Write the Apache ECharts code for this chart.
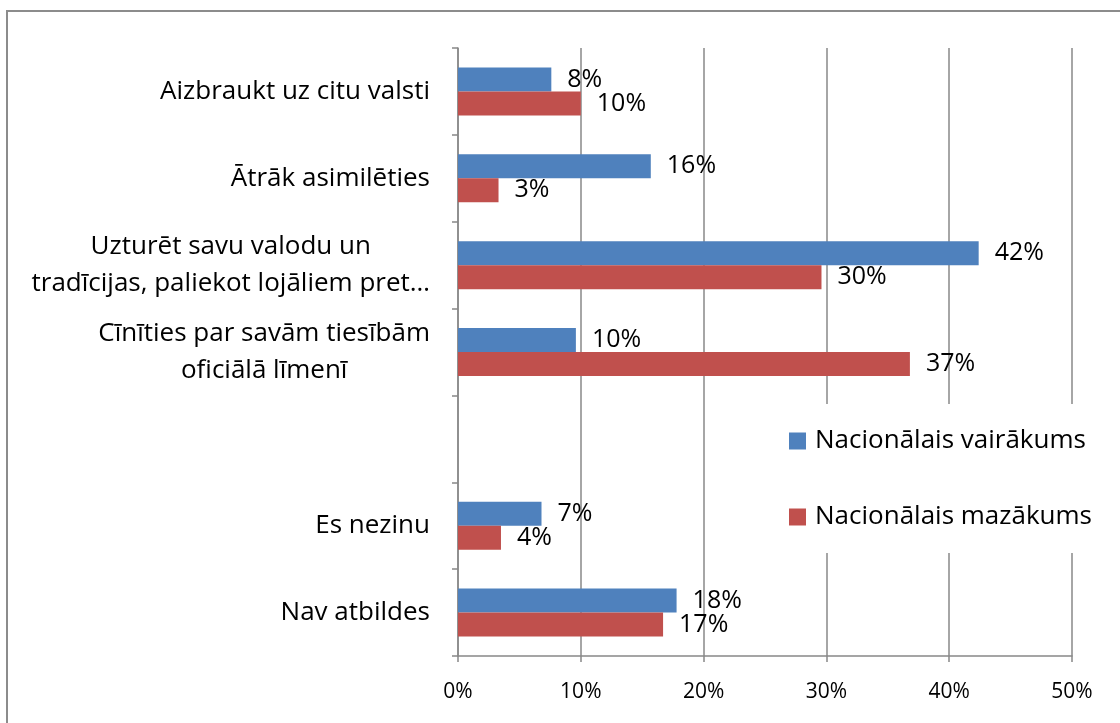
<!DOCTYPE html>
<html>
<head>
<meta charset="utf-8">
<script src="https://cdn.jsdelivr.net/npm/echarts@6/dist/echarts.min.js"></script>
<style>
  html, body { margin: 0; padding: 0; background: #fff; }
  #chart { width: 1120px; height: 723px; }
</style>
</head>
<body>
<div id="chart"></div>
<script>
// categories, top to bottom (the empty one is a blank row in the original)
const categories = [
    'Aizbraukt uz citu valsti',
    'Ātrāk asimilēties',
    'Uzturēt savu valodu un\ntradīcijas, paliekot lojāliem pret…',
    'Cīnīties par savām tiesībām\noficiālā līmenī',
    '',
    'Es nezinu',
    'Nav atbildes'
];

const seriesNames = ['Nacionālais vairākums', 'Nacionālais mazākums'];

// percent values
const majority = [7.6, 15.7, 42.4, 9.6, null, 6.8, 17.8];
const minority = [10.0, 3.3, 29.6, 36.8, null, 3.5, 16.7];

const xTicks = [0, 10, 20, 30, 40, 50];

const colors = ['#4F81BD', '#C0504D'];
const fontFamily = '"Open Sans", "Noto Sans", sans-serif';
const gray = '#888888';

const Make_Bar = (name, data, color) => {
    return {
        name: name,
        type: 'bar',
        data: data,
        barWidth: 24,
        barGap: '0%',
        itemStyle: { color: color },
        label: {
            show: true,
            position: 'right',
            distance: 16,
            color: '#000',
            fontFamily: fontFamily,
            fontSize: 25,
            formatter: (p) => Math.round(p.value) + '%'
        }
    };
};

let Chart = echarts.init(document.getElementById('chart'));

Chart.setOption({
    animation: false,
    backgroundColor: '#fff',
    graphic: [
        {
            type: 'rect',
            shape: { x: 7, y: 11, width: 1300, height: 900 },
            style: { fill: 'none', stroke: '#8c8c8c', lineWidth: 2 },
            silent: true
        }
    ],
    grid: {
        left: 458,
        right: 48,
        top: 48,
        bottom: 67
    },
    legend: {
        orient: 'vertical',
        left: 780,
        top: 404,
        backgroundColor: '#fff',
        padding: [24, 10, 23, 9],
        itemWidth: 17,
        itemHeight: 17,
        itemGap: 50,
        icon: 'rect',
        data: seriesNames,
        textStyle: {
            color: '#000',
            fontFamily: fontFamily,
            fontSize: 26,
            lineHeight: 26,
            padding: [0, 0, 0, 4]
        }
    },
    xAxis: {
        type: 'value',
        min: xTicks[0],
        max: xTicks[xTicks.length - 1],
        interval: 10,
        axisLine: { show: true, lineStyle: { color: gray, width: 1.5 } },
        axisTick: { show: true, length: 6, lineStyle: { color: gray, width: 1.5 } },
        splitLine: { show: true, lineStyle: { color: gray, width: 1.5 } },
        axisLabel: {
            margin: 26,
            color: '#000',
            fontFamily: fontFamily,
            fontSize: 21,
            formatter: '{value}%'
        }
    },
    yAxis: {
        type: 'category',
        inverse: true,
        data: categories,
        axisLine: { show: true, lineStyle: { color: gray, width: 1.5 } },
        axisTick: { show: true, length: 6, lineStyle: { color: gray, width: 1.5 } },
        axisLabel: {
            margin: 28,
            interval: 0,
            color: '#000',
            formatter: (v) => v.split('\n').map((l) => '{c|' + l + '}').join('\n'),
            rich: {
                c: {
                    align: 'center',
                    color: '#000',
                    fontFamily: fontFamily,
                    fontSize: 26,
                    lineHeight: 37
                }
            }
        }
    },
    series: [
        Make_Bar(seriesNames[0], majority, colors[0]),
        Make_Bar(seriesNames[1], minority, colors[1])
    ]
});
</script>
</body>
</html>
